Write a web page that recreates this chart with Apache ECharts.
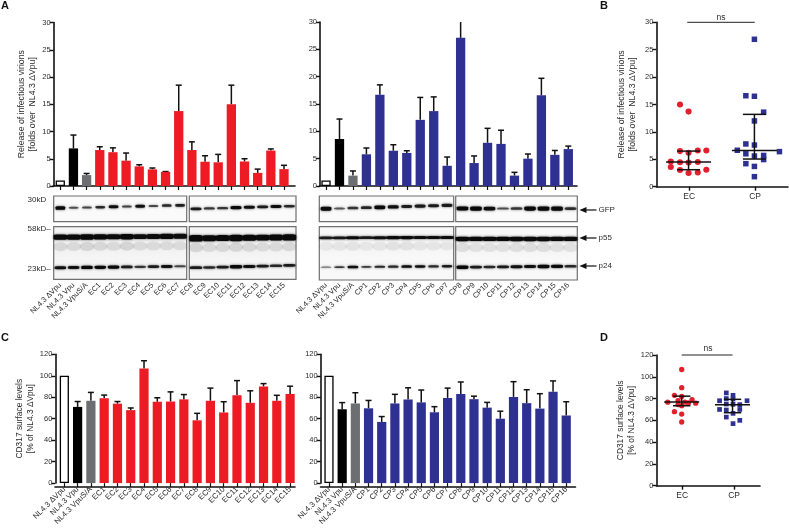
<!DOCTYPE html>
<html><head><meta charset="utf-8">
<style>html,body{margin:0;padding:0;background:#fff}#c{width:789px;height:528px}</style>
<script src="https://cdn.jsdelivr.net/npm/echarts@6/dist/echarts.min.js"></script>
</head><body><div id="c"></div>
<script>
// ---------- category labels
const ctrl = ['NL4.3 ΔVpu','NL4.3 Vpu','NL4.3 VpuS/A'];
const ecNames = ['EC1','EC2','EC3','EC4','EC5','EC6','EC7','EC8','EC9','EC10','EC11','EC12','EC13','EC14','EC15'];
const cpNames = ['CP1','CP2','CP3','CP4','CP5','CP6','CP7','CP8','CP9','CP10','CP11','CP12','CP13','CP14','CP15','CP16'];
// ---------- panel A: release of infectious virions
const releaseEC    = [1,6.9,2.0,6.6,6.2,4.65,3.6,3.05,2.6,13.75,6.6,4.45,4.35,15,4.5,2.4,6.5,3.1];
const releaseECerr = [1,9.35,2.3,7.2,7.0,6.05,3.9,3.3,2.65,18.5,8.1,5.55,5.8,18.5,5,3.1,6.8,3.8];
const releaseCP    = [1,8.6,1.9,5.8,16.7,6.45,6.05,12.1,13.7,3.7,27.1,4.2,7.9,7.7,1.9,5,16.6,5.7,6.75];
const releaseCPerr = [1,12.25,2.75,6.95,18.5,7.55,6.45,16.2,16.3,5.3,30,5.5,10.55,10.2,2.5,5.85,19.7,6.5,7.3];
// ---------- panel C: CD317 surface levels
const cd317EC    = [100,71,76.7,79,74,68,106.7,75.8,76,78,58.5,76.7,65.8,81.8,74.8,90,76.7,83];
const cd317ECerr = [100,76,84.5,82,76,70,114,79.5,85,82.5,65,88.5,75.8,95.5,86,92.7,81.8,90.3];
const cd317CP    = [100,68.8,74.2,69.7,57,74.2,77.9,75.2,66,79.4,83,78.2,70.3,60,80.3,74.5,69.4,85.2,63];
const cd317CPerr = [100,75,84.2,77,62,82.7,88.8,86.7,71.2,88.5,94.2,81,75.2,67,94.5,87,83.3,95.2,75.8];
// ---------- panel B: points (column position, value) and median / quartiles
const bECx = [.36,.49,.36,.49,.63,.76,.22,.36,.49,.63,.22,.36,.49,.63,.76];
const bECy = [15,13.7,6.5,6.2,6.6,6.6,4.6,4.45,4.4,4.5,3.6,3.05,2.5,2.6,3.1];
const bCPx = [1.49,1.36,1.49,1.63,1.49,1.36,1.49,1.23,1.87,1.36,1.49,1.63,1.63,1.36,1.49,1.49];
const bCPy = [26.9,16.6,16.5,13.6,12,7.8,7.6,6.65,6.4,6.0,5.6,5.7,4.95,4.2,3.7,1.83];
const bStats = [[.49,4.5,3.1,6.5],[1.49,6.6,5.05,13.2]];
// ---------- panel D
const dECx = [.49,.49,.35,.49,.69,.42,.22,.55,.62,.76,.42,.49,.35,.49,.49];
const dECy = [106.7,90,83,82,79,78,76.7,76.7,76,75.8,74.5,73.5,68,65.8,58.5];
const dCPx = [1.35,1.48,1.35,1.48,1.22,1.75,1.35,1.48,1.61,1.22,1.35,1.61,1.48,1.35,1.61,1.48];
const dCPy = [85.2,83,80,79.5,78,78,75,74.7,74.4,70,69.5,70,66.4,63,60,57];
const dStats = [[.49,76.8,73.4,82.2],[1.47,74.4,67,79.3]];
// ---------- western blot band strengths (0-1), per lane
const gfpEC1 = [1,.35,.4,.6,.8,.45,.8,.4,.6,.7],   gfpEC2 = [.7,.5,.5,.9,.8,.7,.85,.6];
const p55EC1 = [.9,.85,1,.9,.85,1,.8,.8,.85,.8],   p55EC2 = [1,.85,.9,1,.9,.85,.85,.9];
const p24EC1 = [.8,.8,.95,.9,.9,.7,.5,.7,.8,.4],   p24EC2 = [.7,.6,.7,1,.8,.7,.6,.7];
const gfpCP1 = [1,.3,.5,.6,.9,.8,.7,.7,.7,.7],     gfpCP2 = [.9,1,.8,.35,.5,.95,1,1,.55];
const p55CP1 = [.7,.75,.85,.7,.8,.9,.9,.8,.8,.8],  p55CP2 = [1,.9,.9,.9,1,1,1,.9,.9];
const p24CP1 = [.2,.5,.8,.5,.6,.6,.8,.8,.6,.7],    p24CP2 = [1,.7,.6,.7,.8,.8,1,.9,.6];

const FONT = '"Liberation Sans", Arial, sans-serif';
const INK = '#111', TXT = '#2b2b2b';
const RED = '#ED1C24', BLUE = '#2E3192', GRAY = '#6D6E71';
const grids = [], xAxes = [], yAxes = [], series = [];

function addGrid(left, right, top, bottom, extra) {
  grids.push(Object.assign({left, top, width: right-left, height: bottom-top, containLabel:false}, extra||{}));
  return grids.length-1;
}
function axisLineStyle(){ return {show:true, lineStyle:{color:INK, width:1.6}}; }
function tickStyle(){ return {show:true, length:4, lineStyle:{color:INK, width:1.4}}; }

function barPanel(o) {
  const cats = ctrl.concat(o.names);
  const g = addGrid(o.left, o.left + o.band*cats.length, o.top, o.bottom);
  const xi = xAxes.length, yi = yAxes.length;
  xAxes.push({type:'category', gridIndex:g, data:cats, boundaryGap:true,
    axisLine:{show:false}, axisTick:{show:true, alignWithLabel:true, length:4, lineStyle:{color:INK,width:1.2}},
    axisLabel:{interval:0, rotate:45, margin:o.labelMargin, fontSize:o.labelSize||7.5, fontFamily:FONT, color:TXT}, splitLine:{show:false}});
  yAxes.push({type:'value', gridIndex:g, min:0, max:o.max, interval:o.step, offset:o.yOffset||0,
    name:o.title, nameLocation:'middle', nameRotate:90, nameGap:o.nameGap,
    nameTextStyle:{fontSize:o.nameSize||8.2, fontFamily:FONT, color:TXT, lineHeight:10.5},
    axisLine:axisLineStyle(), axisTick:tickStyle(),
    axisLabel:{margin:3, fontSize:7.5, fontFamily:FONT, color:TXT}, splitLine:{show:false}});
  // baseline extends a little past the last bar, on its own axis
  const g2 = addGrid(o.axisLeft, o.axisRight, o.top, o.bottom);
  xAxes.push({type:'category', gridIndex:g2, data:[], axisLine:axisLineStyle(), axisTick:{show:false}, axisLabel:{show:false}, splitLine:{show:false}});
  yAxes.push({type:'value', gridIndex:g2, show:false, min:0, max:o.max});
  const color = o.color;
  series.push({type:'bar', xAxisIndex:xi, yAxisIndex:yi, barWidth:o.barWidth, animation:false, silent:true,
    data:o.values.map((v,i)=>({value:v, itemStyle:
      i===0 ? {color:'#fff', borderColor:'#000', borderWidth:1.3}
      : {color:i===1?'#000':i===2?GRAY:color}}))});
  series.push({type:'custom', xAxisIndex:xi, yAxisIndex:yi, animation:false, silent:true,
    data:o.values.map((v,i)=>[i,v,o.errs[i]]),
    encode:{x:0,y:[1,2]},
    renderItem(p,api){
      const a = api.coord([api.value(0),api.value(1)]), b = api.coord([api.value(0),api.value(2)]);
      if (api.value(1)===api.value(2)) return {type:'group',children:[]};
      const st = {stroke:'#111', lineWidth:1.5, fill:null};
      const kids = [{type:'line',shape:{x1:a[0],y1:a[1],x2:b[0],y2:b[1]},style:st}];
      if (!o.noCapAtMax || api.value(2)<o.max) kids.push({type:'line',shape:{x1:b[0]-3,y1:b[1],x2:b[0]+3,y2:b[1]},style:st});
      return {type:'group',children:kids};
    }});
}

function blot(left,right,top,bottom,names,rows){
  const g = addGrid(left,right,top,bottom,{show:true,borderColor:'#6f6f6f',borderWidth:1.2,backgroundColor:rows.tint||'#fafafa',z:1});
  const xi = xAxes.length, yi = yAxes.length;
  xAxes.push({type:'category',gridIndex:g,data:names,show:false});
  yAxes.push({type:'value',gridIndex:g,show:false,min:0,max:1,inverse:true});
  rows.bands.forEach(b=>{
    const n = names.length;
    if (b.smear) series.push({type:'scatter',xAxisIndex:xi,yAxisIndex:yi,animation:false,silent:true,symbol:'circle',z:2,
      data:b.vals.map((v,i)=>[i,b.frac+b.smear-(b.rise||0)*i/n,v]),
      symbolSize:(v)=>[(right-left)/n*1.1,9],
      itemStyle:{opacity:1,color:p=>`rgba(110,110,110,${(.2*p.value[2]*(b.smearK||1)).toFixed(2)})`,shadowBlur:8,shadowColor:'rgba(130,130,130,.45)'}});
    series.push({type:'scatter',xAxisIndex:xi,yAxisIndex:yi,animation:false,silent:true,symbol:'roundRect',z:3,
      data:b.vals.map((v,i)=>[i,b.frac-(b.rise||0)*i/n,v]),
      symbolSize:(v)=>[(right-left)/n*b.w,b.h0+b.h*v[2]],
      itemStyle:{opacity:1,color:p=>`rgba(10,10,10,${Math.min(1,.35+p.value[2]*.75).toFixed(2)})`,shadowBlur:2.5,shadowColor:'rgba(0,0,0,.75)'}});
  });
}

function scatterPanel(o){
  const g = addGrid(o.left,o.right,o.top,o.bottom);
  const xCat = xAxes.length, xVal = xCat+1, yi = yAxes.length;
  xAxes.push({type:'category',gridIndex:g,data:['EC','CP'],axisLine:axisLineStyle(),
    axisTick:{show:true,alignWithLabel:true,length:4,lineStyle:{color:INK,width:1.4}},
    axisLabel:{margin:5,fontSize:8.5,fontFamily:FONT,color:TXT},splitLine:{show:false}});
  xAxes.push({type:'value',gridIndex:g,show:false,min:0,max:2});
  yAxes.push({type:'value',gridIndex:g,min:0,max:o.max,interval:o.step,name:o.title,nameLocation:'middle',nameRotate:90,nameGap:o.nameGap,
    nameTextStyle:{fontSize:o.nameSize||8.2,fontFamily:FONT,color:TXT,lineHeight:10.5},
    axisLine:axisLineStyle(),axisTick:tickStyle(),axisLabel:{margin:3,fontSize:7.5,fontFamily:FONT,color:TXT},splitLine:{show:false}});
  series.push({type:'scatter',xAxisIndex:xVal,yAxisIndex:yi,animation:false,silent:true,symbol:'circle',symbolSize:o.size+.6,z:3,
    itemStyle:{color:'#E21F2C',opacity:1},data:o.ecX.map((x,i)=>[x,o.ecY[i]])});
  series.push({type:'scatter',xAxisIndex:xVal,yAxisIndex:yi,animation:false,silent:true,symbol:'rect',symbolSize:o.size,z:3,
    itemStyle:{color:BLUE,opacity:1},data:o.cpX.map((x,i)=>[x,o.cpY[i]])});
  series.push({type:'custom',xAxisIndex:xVal,yAxisIndex:yi,animation:false,silent:true,z:4,
    data:o.stats,encode:{x:0,y:[1,2,3]},
    renderItem(p,api){
      const c=api.value(0);
      const m=api.coord([c,api.value(1)]),lo=api.coord([c,api.value(2)]),hi=api.coord([c,api.value(3)]);
      const st={stroke:'#111',lineWidth:1.5,fill:null};
      const L=(x1,y1,x2,y2)=>({type:'line',shape:{x1,y1,x2,y2},style:st});
      return {type:'group',children:[
        L(m[0]-o.medHalf,m[1],m[0]+o.medHalf,m[1]),
        L(lo[0],lo[1],hi[0],hi[1]),
        L(lo[0]-o.capHalf,lo[1],lo[0]+o.capHalf,lo[1]),
        L(hi[0]-o.capHalf,hi[1],hi[0]+o.capHalf,hi[1])]};
    }});
  series.push({type:'line',xAxisIndex:xVal,yAxisIndex:yi,animation:false,silent:true,clip:false,symbol:'none',z:4,
    lineStyle:{color:'#222',width:1},data:[[o.nsFrom,o.max],[o.nsTo,o.max]]});
}

barPanel({names:ecNames,values:releaseEC,errs:releaseECerr,color:RED,left:53.7,band:13.16,top:22.5,bottom:186,max:30,step:5,nameSize:8.7,
  axisLeft:53,axisRight:295,barWidth:9.3,labelMargin:98,nameGap:16,title:'Release of infectious virions\n[folds over  NL4.3 ΔVpu]'});
barPanel({names:cpNames,values:releaseCP,errs:releaseCPerr,color:BLUE,left:319.3,band:13.46,top:22,bottom:186,max:30,step:5,yOffset:-.7,noCapAtMax:true,
  axisLeft:319.5,axisRight:577,barWidth:9.3,labelMargin:98,nameGap:0,title:''});
barPanel({names:ecNames,values:cd317EC,errs:cd317ECerr,color:RED,left:57.7,band:13.28,top:354.3,bottom:486.3,max:120,step:20,yOffset:2.4,nameSize:8.4,labelSize:7.8,
  axisLeft:55,axisRight:295,barWidth:9.2,labelMargin:5,nameGap:15,title:'CD317 surface levels\n[% of NL4.3 ΔVpu]'});
barPanel({names:cpNames,values:cd317CP,errs:cd317CPerr,color:BLUE,left:322.4,band:13.18,top:354.3,bottom:486.3,max:120,step:20,yOffset:1.7,labelSize:7.8,
  axisLeft:320.5,axisRight:575.5,barWidth:9.2,labelMargin:5,nameGap:0,title:''});

scatterPanel({left:656.3,right:788,top:22.3,bottom:186.7,max:30,step:5,size:5.5,ecX:bECx,ecY:bECy,cpX:bCPx,cpY:bCPy,stats:bStats,nameSize:8.7,
  medHalf:22.5,capHalf:11.5,nsFrom:.47,nsTo:1.495,nameGap:18.5,title:'Release of infectious virions\n[folds over  NL4.3 ΔVpu]'});
scatterPanel({left:656.3,right:760,top:355,bottom:485.7,max:120,step:20,size:4.7,ecX:dECx,ecY:dECy,cpX:dCPx,cpY:dCPy,stats:dStats,nameSize:8.4,
  medHalf:17.5,capHalf:8.7,nsFrom:.49,nsTo:1.47,nameGap:19,title:'CD317 surface levels\n[% of NL4.3 ΔVpu]'});

// ---- blots
const ecLanes = ctrl.concat(ecNames), cpLanes = ctrl.concat(cpNames);
blot(53.7,186.7,196,221.7,ecLanes.slice(0,10),{bands:[{vals:gfpEC1,frac:.47,rise:.12,w:.72,h0:1,h:2.5}]});
blot(189.3,296,196,221.7,ecLanes.slice(10),{bands:[{vals:gfpEC2,frac:.5,rise:.12,w:.82,h0:1,h:2.5}]});
blot(53.7,186.7,226.7,279.3,ecLanes.slice(0,10),{tint:'#f5f5f5',bands:[
  {vals:p55EC1,frac:.2,rise:.02,w:1.02,h0:2.5,h:3,smear:.18},{vals:p24EC1,frac:.78,rise:.03,w:.86,h0:1,h:2.5}]});
blot(189.3,296,226.7,279.3,ecLanes.slice(10),{tint:'#f5f5f5',bands:[
  {vals:p55EC2,frac:.22,rise:.02,w:1.02,h0:3,h:3.5,smear:.18},{vals:p24EC2,frac:.78,rise:.05,w:.92,h0:1,h:2.5}]});
blot(319.3,453.7,196,221.7,cpLanes.slice(0,10),{bands:[{vals:gfpCP1,frac:.5,rise:.15,w:.8,h0:1,h:3}]});
blot(455.7,577.3,196,221.7,cpLanes.slice(10),{bands:[{vals:gfpCP2,frac:.49,rise:0,w:.86,h0:.8,h:3.5}]});
blot(319.3,453.7,226.7,280,cpLanes.slice(0,10),{tint:'#f8f8f8',bands:[
  {vals:p55CP1,frac:.21,rise:.01,w:1.02,h0:1.2,h:2.2,smear:.16,smearK:.7},{vals:p24CP1,frac:.76,rise:.02,w:.78,h0:.8,h:2.2}]});
blot(455.7,577.3,226.7,280,cpLanes.slice(10),{tint:'#f8f8f8',bands:[
  {vals:p55CP2,frac:.23,rise:0,w:1.02,h0:2,h:2.5,smear:.16,smearK:.8},{vals:p24CP2,frac:.76,rise:.02,w:.88,h0:1,h:2.5}]});

function txt(x,y,s,extra){ return {type:'text',x,y,z:20,silent:true,style:Object.assign({text:s,fontFamily:FONT,fontSize:8,fill:TXT,textAlign:'left',textVerticalAlign:'middle'},extra||{})}; }
function arrow(x2,x1,y){ return [
  {type:'line',z:20,silent:true,shape:{x1:x2,y1:y,x2:x1+4,y2:y},style:{stroke:'#111',lineWidth:1.2}},
  {type:'polygon',z:20,silent:true,shape:{points:[[x1,y],[x1+7,y-3],[x1+7,y+3]]},style:{fill:'#111'}}];}
const L = {fontSize:11,fontWeight:'bold',fill:'#111'};
const graphics = [
  txt(1,6,'A',L),txt(600,6,'B',L),txt(1,338,'C',L),txt(600,338,'D',L),
  txt(27.5,200,'30kD'),txt(27.5,229,'58kD–'),txt(27.5,269,'23kD–'),
  txt(598.5,210,'GFP'),txt(598.5,238,'p55'),txt(598.5,266,'p24'),
  ...arrow(596.5,579.5,210),...arrow(596.5,579.5,238),...arrow(596.5,579.5,266),
  txt(721,18,'ns',{textAlign:'center',fontSize:8.5}),
  txt(708,349,'ns',{textAlign:'center',fontSize:8.5})
];

const chart = echarts.init(document.getElementById('c'),null,{renderer:'canvas',width:789,height:528});
chart.setOption({animation:false,backgroundColor:'#fff',grid:grids,xAxis:xAxes,yAxis:yAxes,series,graphic:graphics,tooltip:{show:false}});
</script></body></html>
